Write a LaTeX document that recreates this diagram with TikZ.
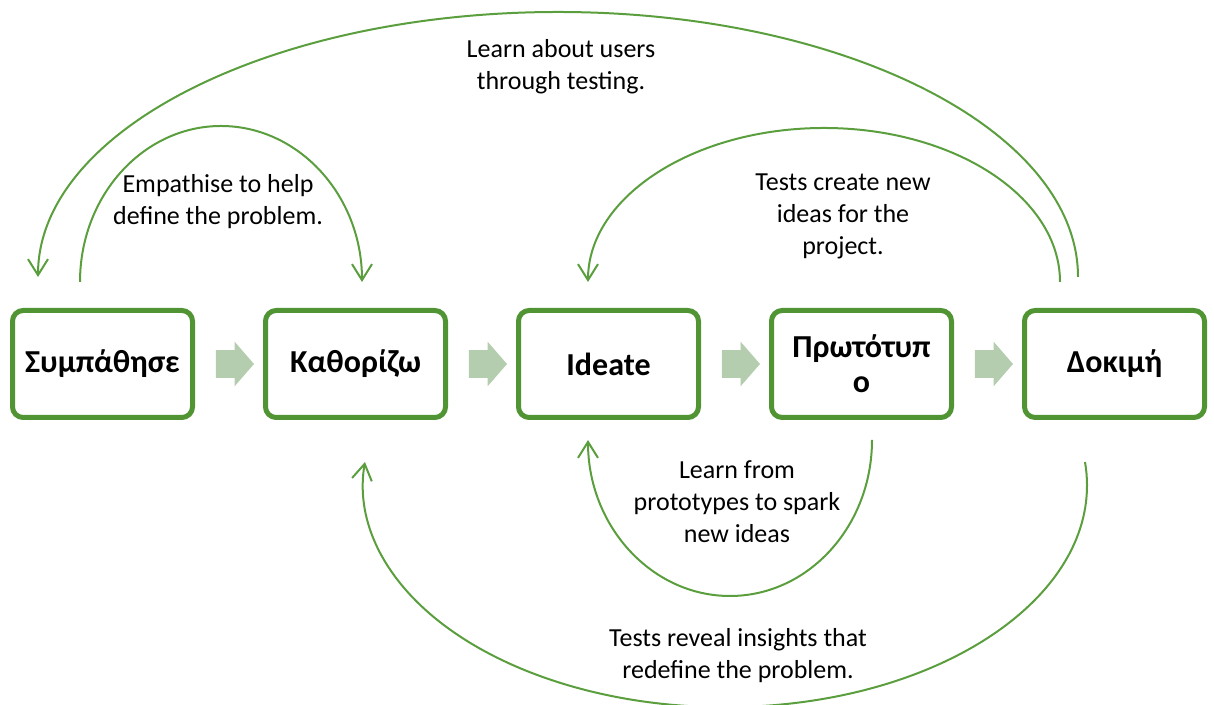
\documentclass[tikz,border=0pt]{standalone}
\usepackage{fontspec}
\setmainfont{Carlito}
\usepackage{xcolor}
\usepackage{tikz}
\usetikzlibrary{positioning,calc,arrows.meta,shapes.arrows}

\definecolor{stageline}{HTML}{509434}
\definecolor{loopgreen}{HTML}{5A9E3E}
\definecolor{flowfill}{HTML}{B4CDAF}

\begin{document}
\begin{tikzpicture}[x=0.75pt,y=0.75pt,
		stagebox/.style={draw=stageline, line width=3.75pt, rounded corners=8pt, minimum width=135pt, minimum height=80.25pt, inner sep=0pt, outer sep=0pt, align=center, font=\bfseries\fontsize{24}{26}\selectfont},
		flowarrow/.style={single arrow, fill=flowfill, draw=none, minimum height=28.5pt, inner xsep=0pt, inner ysep=10.125pt, single arrow head extend=6.375pt, single arrow tip angle=98},
		loopline/.style={draw=loopgreen, line width=1.5pt, -{Straight Barb[length=12pt,width=15pt]}},
		note/.style={align=center, font=\fontsize{19.5}{24}\selectfont}]
			\useasboundingbox (0,0) rectangle (1214,705);
			
			\node[stagebox] (empath) at (102.5,341) {Συμπάθησε};
			\node[stagebox] (define) at (355.5,341) {Καθορίζω};
			\node[stagebox] (ideate) at (608.5,341) {Ideate};
			\node[stagebox] (proto) at (861.5,341) {Πρωτότυπ\\ο};
			\node[stagebox] (test) at (1114.5,341) {Δοκιμή};
			
			\foreach \a/\b in {empath/define,define/ideate,ideate/proto,proto/test} {
				\node[flowarrow] at ($(\a.east)!0.5!(\b.west)$) {};
			}
			
			% loops above the row
			\draw[loopline] ($(empath)+(-22.5,82)$) arc[start angle=180, end angle=0, x radius=141, y radius=156];
			\draw[loopline] ($(test)+(-36.5,87)$) arc[start angle=0, end angle=180, x radius=520, y radius=265];
			\draw[loopline] ($(test)+(-54.5,82)$) arc[start angle=0, end angle=180, x radius=236, y radius=154];
			
			% loops below the row
			\draw[loopline] ($(proto)+(10.5,-76)$) arc[start angle=0, end angle=-180, x radius=142, y radius=156];
			\draw[loopline] ($(test)+(-29.5,-98)$) arc[start angle=6, end angle=-186, x radius=362, y radius=222];
			
			\node[note] (noteusers) at (561,638.5) {Learn about users\\through testing.};
			\node[note] (noteempath) at (218,503.5) {Empathise to help\\define the problem.};
			\node[note] (noteideas) at (843,489) {Tests create new\\ideas for the\\project.};
			\node[note] (noteproto) at (737,203) {Learn from\\prototypes to spark\\new ideas};
			\node[note] (noteinsight) at (738,49) {Tests reveal insights that\\redefine the problem.};
		\end{tikzpicture}
\end{document}
